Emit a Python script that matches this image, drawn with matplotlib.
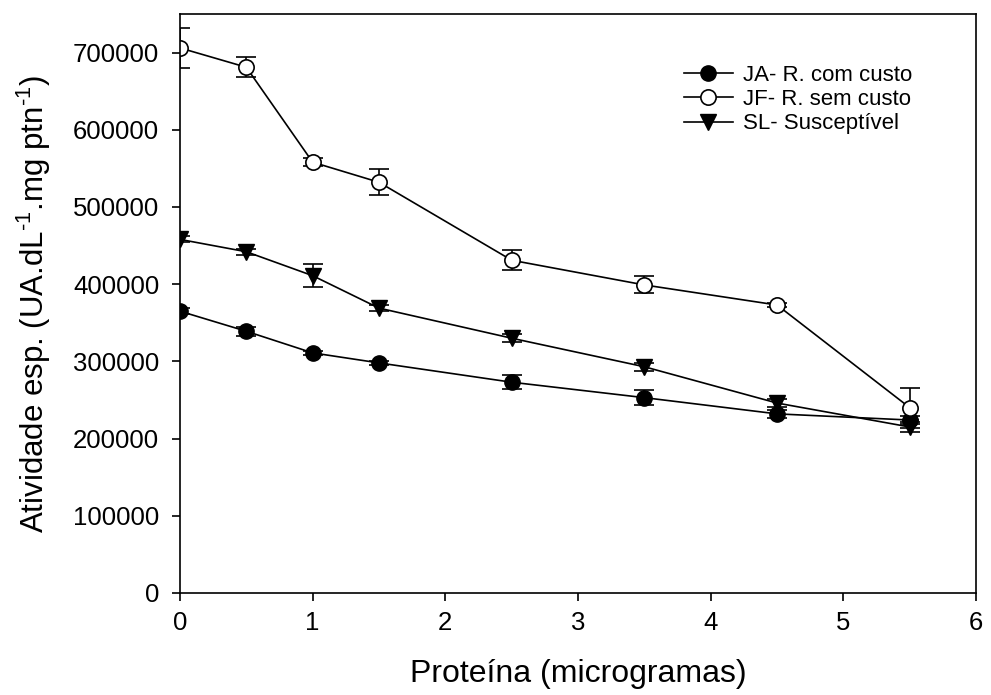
import numpy as np
import matplotlib
matplotlib.use('Agg')
import matplotlib.pyplot as plt
from matplotlib.lines import Line2D

plt.rcParams['font.family'] = ['Liberation Sans', 'DejaVu Sans']
plt.rcParams['mathtext.fontset'] = 'custom'
plt.rcParams['mathtext.rm'] = 'Liberation Sans'
plt.rcParams['mathtext.default'] = 'regular'

# data
x = [0, 0.5, 1, 1.5, 2.5, 3.5, 4.5, 5.5]
ja = [365000, 339000, 311000, 298000, 273000, 253000, 232000, 224000]
ja_err = [4000, 6000, 3000, 3000, 9000, 10000, 5000, 5000]
jf = [706000, 681000, 558000, 532000, 431000, 399000, 373000, 240000]
jf_err = [26000, 13000, 5000, 17000, 13000, 11000, 3000, 26000]
sl = [458000, 442000, 411000, 369000, 330000, 293000, 246000, 215000]
sl_err = [4000, 4000, 15000, 4000, 5000, 5000, 5000, 6000]

labels = ['JA- R. com custo', 'JF- R. sem custo', 'SL- Susceptível']

fig = plt.figure(figsize=(9.91, 6.95), dpi=100)
ax = fig.add_axes([0.1816, 0.1468, 0.8034, 0.8331])

ekw = dict(color='black', lw=1.2, capsize=7, capthick=1.2, elinewidth=1.2)
ax.errorbar(x, ja, yerr=ja_err, marker='o', ms=11, mfc='black', mec='black', **ekw)
ax.errorbar(x, jf, yerr=jf_err, marker='o', ms=11, mfc='white', mec='black', mew=1.2, **ekw)
ax.errorbar(x, sl, yerr=sl_err, marker='v', ms=12, mfc='black', mec='black', **ekw)

ax.set_xlim(0, 6)
ax.set_ylim(0, 750000)
ax.set_xticks(range(0, 7))
ax.set_yticks(np.arange(0, 700001, 100000))
ax.tick_params(direction='out', length=6, width=1.2, labelsize=18.5)
ax.tick_params(axis='x', pad=7)
ax.tick_params(axis='y', pad=9)
for s in ax.spines.values():
    s.set_linewidth(1.2)

ax.set_xlabel('Proteína (microgramas)', fontsize=23, labelpad=17)
ax.set_ylabel('Atividade esp. (UA.dL$^{\\text{-}1}$.mg ptn$^{\\text{-}1}$)', fontsize=22.5, labelpad=14)

handles = [
    Line2D([], [], color='black', lw=1.2, marker='o', ms=11, mfc='black', mec='black'),
    Line2D([], [], color='black', lw=1.2, marker='o', ms=11, mfc='white', mec='black', mew=1.2),
    Line2D([], [], color='black', lw=1.2, marker='v', ms=12, mfc='black', mec='black'),
]
ax.legend(handles, labels, loc='upper left', bbox_to_anchor=(0.608, 0.947), frameon=False,
          fontsize=16, handlelength=2.2, handletextpad=0.45, labelspacing=0.15)

fig.savefig('out.png', dpi=100)
